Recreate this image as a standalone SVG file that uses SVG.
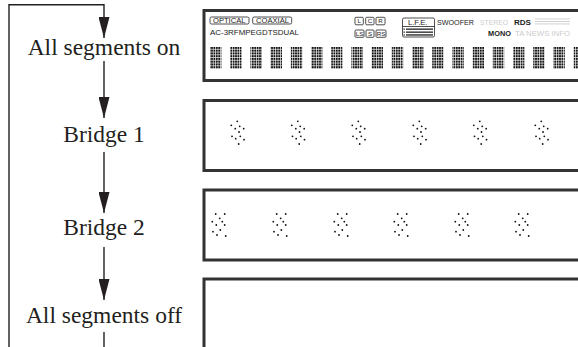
<svg xmlns="http://www.w3.org/2000/svg" width="578" height="347" viewBox="0 0 578 347">
<style>
.lbl{font-family:"Liberation Serif","Times New Roman",serif;font-size:23.5px;fill:#231f20;text-anchor:middle}
.ln{stroke:#231f20;stroke-width:1.4;fill:none}
.frame{fill:#fff;stroke:#333;stroke-width:3}
.sm{font-family:"Liberation Sans",Arial,sans-serif;font-size:7.6px;fill:#222}
.smb{font-family:"Liberation Sans",Arial,sans-serif;font-size:7.6px;fill:#222;font-weight:bold}
.faint{font-family:"Liberation Sans",Arial,sans-serif;font-size:7.6px;fill:#ccc}
.tag{fill:none;stroke:#222;stroke-width:0.8}
.tt{font-family:"Liberation Sans",Arial,sans-serif;font-size:6.2px;fill:#222;text-anchor:middle}
.d{fill:#111}
</style>
<defs>
<marker id="ah" markerWidth="21" markerHeight="11" refX="21" refY="5.5" orient="auto" markerUnits="userSpaceOnUse" viewBox="0 0 21 11">
<path d="M0,0 L21,5.5 L0,11 Z" fill="#231f20"/>
</marker>
<pattern id="mat" patternUnits="userSpaceOnUse" x="0" y="47" width="2.4" height="2.75">
<rect width="1.8" height="2.1" fill="#111"/>
</pattern>
<g id="p1">
<circle class="d" cx="-0.7" cy="-11.7" r="0.9"/><circle class="d" cx="-6.7" cy="-7.7" r="0.9"/><circle class="d" cx="1.7" cy="-6.7" r="0.9"/><circle class="d" cx="-2.7" cy="-4.3" r="0.9"/><circle class="d" cx="5.7" cy="-4.3" r="0.9"/><circle class="d" cx="1" cy="-1" r="0.9"/><circle class="d" cx="-6" cy="3.3" r="0.9"/><circle class="d" cx="2.3" cy="3.3" r="0.9"/><circle class="d" cx="-2.3" cy="5.7" r="0.9"/><circle class="d" cx="6" cy="6.7" r="0.9"/><circle class="d" cx="0.7" cy="11" r="0.9"/>
</g>
<g id="p2">
<circle class="d" cx="-3.3" cy="-11" r="0.9"/><circle class="d" cx="5.7" cy="-11" r="0.9"/><circle class="d" cx="0.7" cy="-6.7" r="0.9"/><circle class="d" cx="-6.7" cy="-3.3" r="0.9"/><circle class="d" cx="3.3" cy="-3.3" r="0.9"/><circle class="d" cx="-2.7" cy="0" r="0.9"/><circle class="d" cx="5.7" cy="0" r="0.9"/><circle class="d" cx="-6" cy="6.7" r="0.9"/><circle class="d" cx="1.3" cy="5" r="0.9"/><circle class="d" cx="-2" cy="10" r="0.9"/><circle class="d" cx="6.7" cy="11" r="0.9"/>
</g>
</defs>
<rect width="578" height="347" fill="#fff"/>

<g id="connectors">
<path class="ln" d="M9,347 L9,4.7 L104,4.7 L104,38" marker-end="url(#ah)"/>
<path class="ln" d="M104,61 L104,118" marker-end="url(#ah)"/>
<path class="ln" d="M104,152 L104,213" marker-end="url(#ah)"/>
<path class="ln" d="M104,247 L104,300" marker-end="url(#ah)"/>
<path class="ln" d="M104,332 L104,347"/>
</g>

<g id="node-all-on"><text class="lbl" x="104" y="55">All segments on</text></g>
<g id="node-bridge1"><text class="lbl" x="104" y="142">Bridge 1</text></g>
<g id="node-bridge2"><text class="lbl" x="104" y="235">Bridge 2</text></g>
<g id="node-all-off"><text class="lbl" x="104" y="323">All segments off</text></g>

<g id="display-on">
<rect class="frame" x="204" y="10.5" width="390" height="70"/>
<rect class="tag" x="210" y="17" width="39" height="7" rx="1.5"/>
<text class="sm" x="213" y="23" font-size="6.8">OPTICAL</text>
<rect class="tag" x="252.7" y="17" width="39" height="7" rx="1.5"/>
<text class="sm" x="256" y="23" font-size="6.8">COAXIAL</text>
<text class="sm" x="210" y="34.5" textLength="89" lengthAdjust="spacingAndGlyphs">AC-3RFMPEGDTSDUAL</text>
<rect class="tag" x="355" y="17.3" width="8.3" height="7.5" rx="1"/><text class="tt" x="359.2" y="23.3">L</text>
<rect class="tag" x="365.7" y="17.3" width="8.3" height="7.5" rx="1"/><text class="tt" x="369.9" y="23.3">C</text>
<rect class="tag" x="376" y="17.3" width="9" height="7.5" rx="1"/><text class="tt" x="380.5" y="23.3">R</text>
<rect class="tag" x="355" y="30" width="9" height="7.3" rx="1"/><text class="tt" x="359.5" y="35.9" font-size="5.6">LS</text>
<rect class="tag" x="366" y="30" width="8" height="7.3" rx="1"/><text class="tt" x="370" y="35.9">S</text>
<rect class="tag" x="376" y="30" width="10" height="7.3" rx="1"/><text class="tt" x="381" y="35.9" font-size="5.6">RS</text>
<rect class="tag" x="402.5" y="18" width="32" height="19" rx="1.5"/>
<text class="sm" x="408" y="24.5" font-size="6.8">L.F.E.</text>
<line x1="402.5" y1="26.5" x2="434.5" y2="26.5" stroke="#222" stroke-width="0.8"/>
<rect x="406" y="28.5" width="27" height="1.3" fill="#222"/>
<rect x="406" y="31.5" width="27" height="1.3" fill="#222"/>
<rect x="406" y="34.3" width="27" height="1.3" fill="#222"/>
<rect x="403.5" y="28.5" width="1.3" height="1.3" fill="#222"/>
<rect x="403.5" y="31.5" width="1.3" height="1.3" fill="#222"/>
<rect x="403.5" y="34.3" width="1.3" height="1.3" fill="#222"/>
<text class="sm" x="437" y="25" textLength="37" lengthAdjust="spacingAndGlyphs">SWOOFER</text>
<text class="faint" x="480" y="25" textLength="28" lengthAdjust="spacingAndGlyphs">STEREO</text>
<text class="smb" x="514" y="25" textLength="17" lengthAdjust="spacingAndGlyphs">RDS</text>
<g fill="#ccc"><rect x="535" y="18.5" width="35" height="0.9"/><rect x="535" y="21" width="35" height="0.9"/><rect x="535" y="23.5" width="35" height="0.9"/></g>
<text class="smb" x="488" y="35.5" textLength="23" lengthAdjust="spacingAndGlyphs">MONO</text>
<text class="faint" x="515" y="35.5" textLength="55" lengthAdjust="spacingAndGlyphs">TA NEWS INFO</text>
<g fill="url(#mat)">
<rect x="210" y="47" width="11.4" height="22"/><rect x="230.2" y="47" width="11.4" height="22"/><rect x="250.4" y="47" width="11.4" height="22"/><rect x="270.6" y="47" width="11.4" height="22"/><rect x="290.8" y="47" width="11.4" height="22"/><rect x="311" y="47" width="11.4" height="22"/><rect x="331.2" y="47" width="11.4" height="22"/><rect x="351.4" y="47" width="11.4" height="22"/><rect x="371.6" y="47" width="11.4" height="22"/><rect x="391.8" y="47" width="11.4" height="22"/><rect x="412" y="47" width="11.4" height="22"/><rect x="432.2" y="47" width="11.4" height="22"/><rect x="452.4" y="47" width="11.4" height="22"/><rect x="472.6" y="47" width="11.4" height="22"/><rect x="492.8" y="47" width="11.4" height="22"/><rect x="513" y="47" width="11.4" height="22"/><rect x="533.2" y="47" width="11.4" height="22"/><rect x="553.4" y="47" width="11.4" height="22"/><rect x="573.6" y="47" width="11.4" height="22"/>
</g>
</g>

<g id="display-bridge1">
<rect class="frame" x="204" y="100.5" width="390" height="70"/>
<use href="#p1" x="238" y="133"/><use href="#p1" x="298.5" y="133"/><use href="#p1" x="359" y="133"/><use href="#p1" x="420" y="133"/><use href="#p1" x="480.5" y="133"/><use href="#p1" x="542" y="133"/>
</g>

<g id="display-bridge2">
<rect class="frame" x="204" y="190" width="390" height="70"/>
<use href="#p2" x="219" y="225"/><use href="#p2" x="280" y="225"/><use href="#p2" x="341" y="225"/><use href="#p2" x="401" y="225"/><use href="#p2" x="462" y="225"/><use href="#p2" x="522" y="225"/>
</g>

<g id="display-off">
<rect class="frame" x="204" y="279" width="390" height="80"/>
</g>
</svg>
